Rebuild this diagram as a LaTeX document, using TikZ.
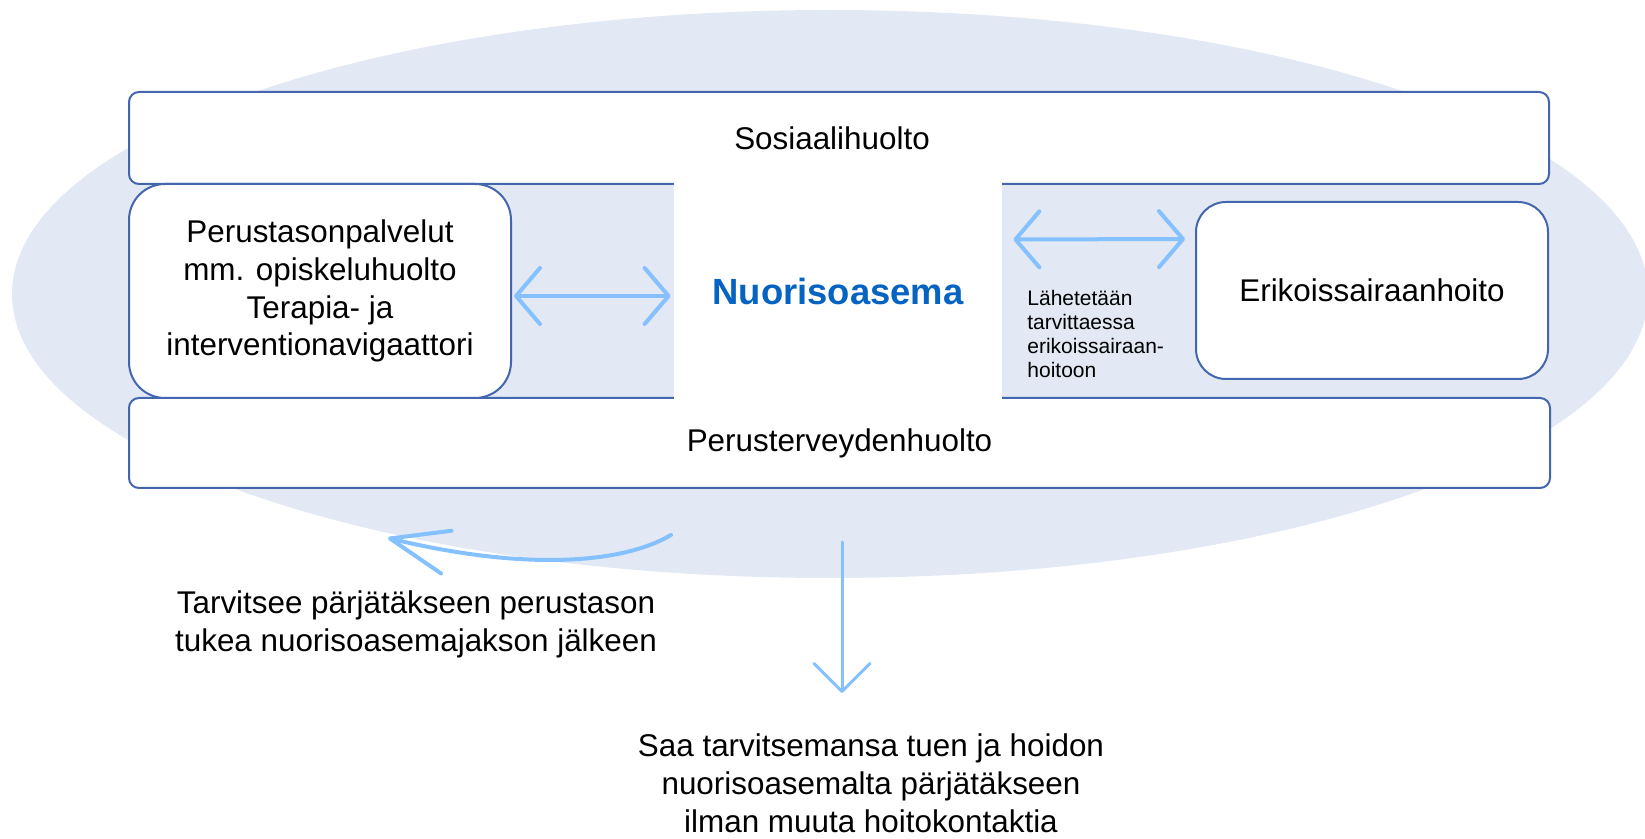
\documentclass[tikz,border=0pt]{standalone}
\usepackage{fontspec}
\setmainfont{Liberation Sans}
\usetikzlibrary{arrows.meta}
\definecolor{ovalfill}{HTML}{E2E8F4}
\definecolor{boxline}{HTML}{4466AE}
\definecolor{arrowblue}{HTML}{85C1FF}
\definecolor{titleblue}{HTML}{0563C1}

\begin{document}
\begin{tikzpicture}[
				x=0.5pt, y=-0.5pt,
				box style/.style={
					draw=boxline,
					line width=1pt,
					fill=white,
					align=center,
					inner sep=0pt,
					font=\fontsize{15.7}{18.9}\selectfont
				},
				text style/.style={
					align=center,
					inner sep=0pt,
					font=\fontsize{15.7}{18.9}\selectfont
				},
				arrow style/.style={
					draw=arrowblue,
					line width=2pt,
					line cap=round,
					arrows={Straight Barb[length=12pt,width=28pt,round]-Straight Barb[length=12pt,width=28pt,round]}
				},
				curve style/.style={
					draw=arrowblue,
					line width=2pt,
					line cap=round,
					arrows={-Straight Barb[length=29pt,width=22pt,round]}
				},
				down style/.style={
					draw=arrowblue,
					line width=1.5pt,
					line cap=round,
					arrows={-Straight Barb[length=14pt,width=28pt,round]}
				}
				]
				
				\useasboundingbox (0,0) rectangle (1645,839);
				\clip (0,0) rectangle (1645,839);
				
				% background oval
				\fill[ovalfill] (830,294) ellipse (818 and 284);
				
				\node[box style, rounded corners=5pt, minimum width=710pt, minimum height=46pt] (node1) at (839,138) 
				{\hspace*{-7pt}Sosiaalihuolto};
				
				\node[box style, rounded corners=5pt, minimum width=710.5pt, minimum height=45pt] (node5) at (839.5,443) 
				{Perusterveydenhuolto};
				
				\node[box style, rounded corners=18pt, minimum width=191pt, minimum height=107pt] (node2) at (320,291) 
				{Perustasonpalvelut\\mm. opiskeluhuolto\\Terapia- ja\\interventionavigaattori};
				
				\node[box style, rounded corners=15pt, minimum width=176pt, minimum height=88.5pt] (node4) at (1372,290.5) 
				{Erikoissairaanhoito};
				
				\node[fill=white, inner sep=0pt, minimum width=164pt, minimum height=109pt,
				font=\bfseries\fontsize{18.2}{22}\selectfont, text=titleblue] (node3) at (838,291) 
				{Nuorisoasema};
				
				\node[anchor=west, align=left, inner sep=0pt, font=\fontsize{10.5}{12}\selectfont] (note1) at (1027,334) 
				{Lähetetään\\tarvittaessa\\erikoissairaan-\\hoitoon};
				
				\node[text style] (note2) at (416,624) 
				{Tarvitsee pärjätäkseen perustason\\tukea nuorisoasemajakson jälkeen};
				
				\node[text style] (note3) at (871,783) 
				{Saa tarvitsemansa tuen ja hoidon\\nuorisoasemalta pärjätäkseen\\ilman muuta hoitokontaktia};
				
				\coordinate (c1) at (671,535);
				\coordinate (c2) at (388,538);
				\coordinate (d1) at (842,542);
				\coordinate (d2) at (842,693);
				
				\draw[arrow style, shorten <=1pt, shorten >=1.5pt] ([yshift=-2.5pt]node2.east) -- ([yshift=-2.5pt]node3.west);
				\draw[arrow style, shorten <=5.5pt, shorten >=5pt] ([yshift=25.75pt]node3.east) -- ([yshift=25.75pt]node4.west);
				\draw[curve style] (c1) .. controls (620,565) and (520,570) .. (c2);
				\draw[down style] (d1) -- (d2);
				
			\end{tikzpicture}
\end{document}
